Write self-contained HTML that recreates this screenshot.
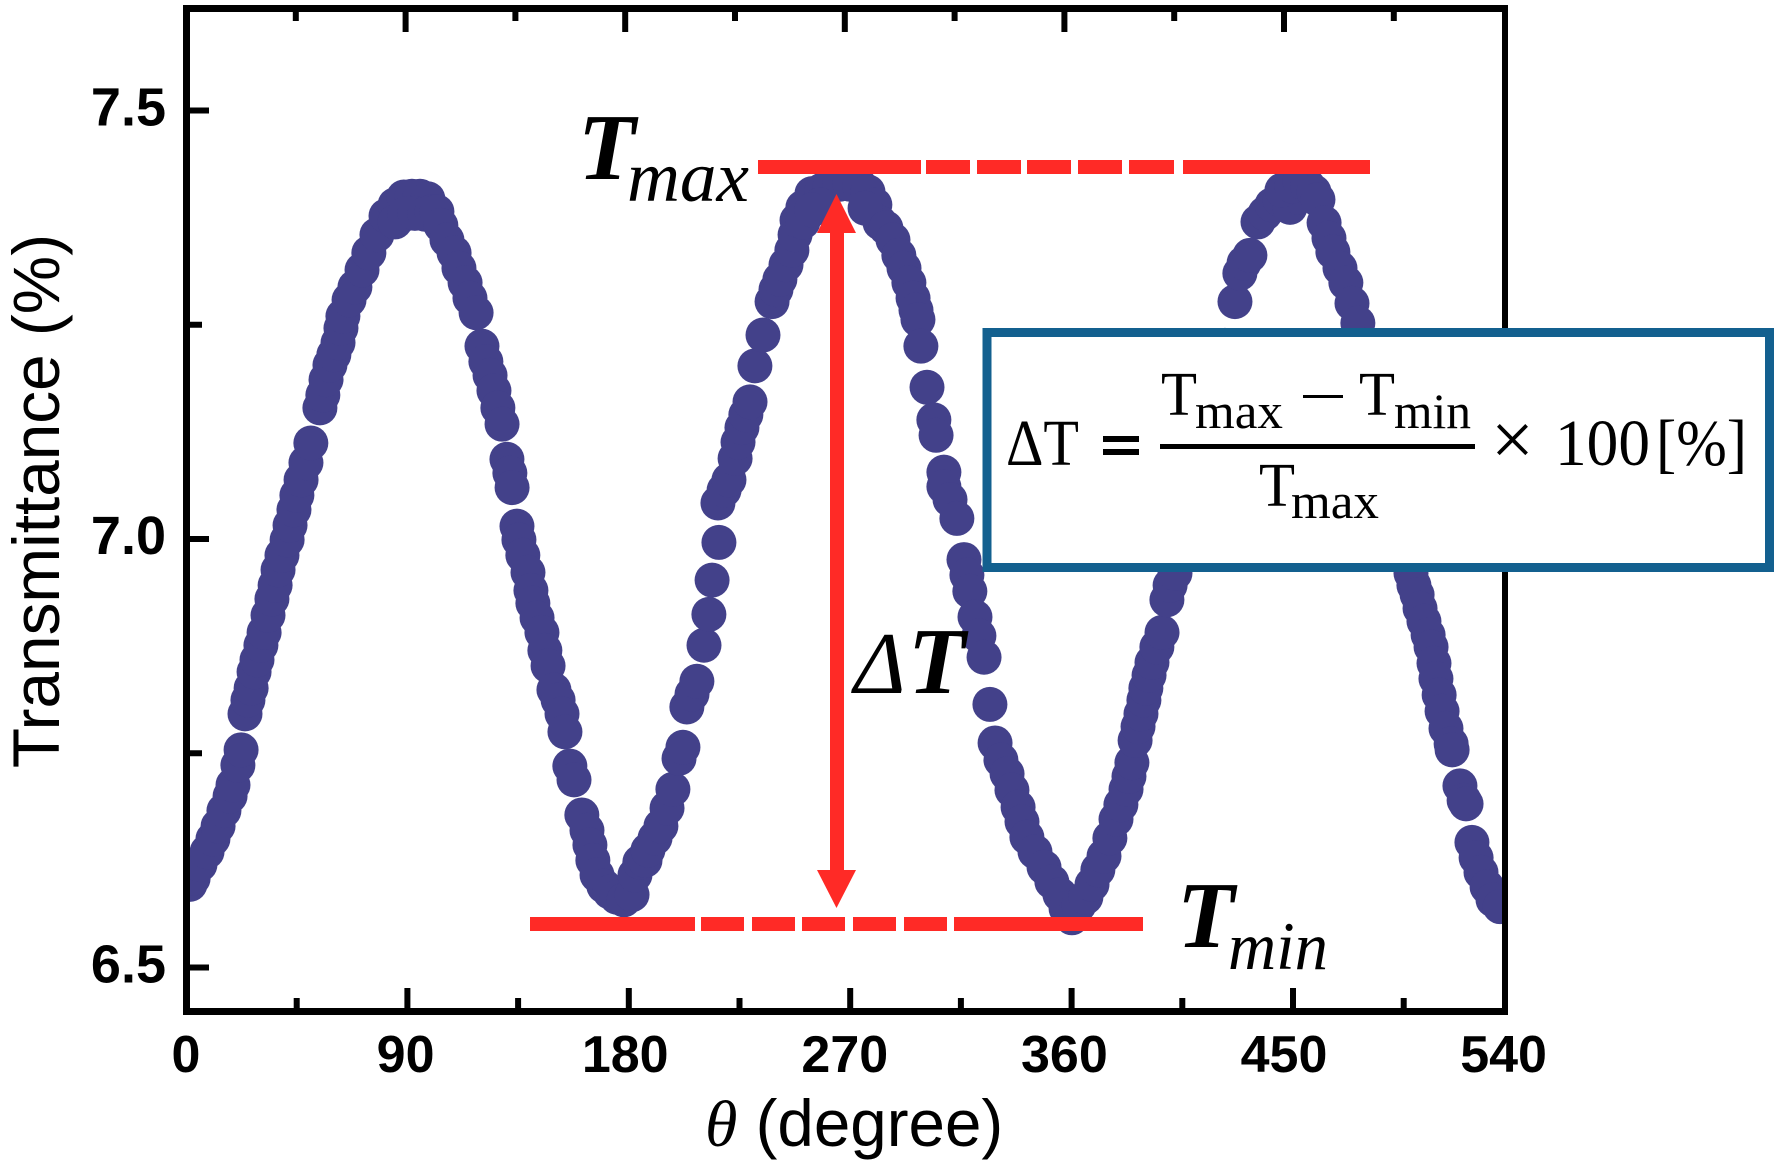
<!DOCTYPE html>
<html lang="en">
<head>
<meta charset="utf-8">
<title>Transmittance vs angle</title>
<style>
html,body{margin:0;padding:0;background:#fff;width:1779px;height:1168px;overflow:hidden}
svg{display:block;position:absolute;left:0;top:0}
.sans{font-family:"Liberation Sans",Arial,sans-serif}
.serif{font-family:"Liberation Serif","Times New Roman",serif}
</style>
</head>
<body>
<svg id="chart" xmlns="http://www.w3.org/2000/svg" width="1779" height="1168" viewBox="0 0 1779 1168">
  <defs>
    <clipPath id="plot-clip"><rect x="189" y="11" width="1314" height="998"/></clipPath>
  </defs>
  <rect x="0" y="0" width="1779" height="1168" fill="#fff"/>
  <g id="dots" clip-path="url(#plot-clip)" fill="#43418a"></g>
  <g id="axes"></g>

  <g fill="#ff2a26">
    <rect x="758" y="160" width="163" height="14"/><rect x="926" y="160" width="44" height="14"/><rect x="977" y="160" width="44" height="14"/><rect x="1027" y="160" width="44" height="14"/><rect x="1078" y="160" width="44" height="14"/><rect x="1129" y="160" width="45" height="14"/><rect x="1183" y="160" width="187" height="14"/>
  </g>
  <g fill="#ff2a26">
    <rect x="530" y="917" width="165" height="14"/><rect x="701" y="917" width="43" height="14"/><rect x="752" y="917" width="43" height="14"/><rect x="802" y="917" width="43" height="14"/><rect x="853" y="917" width="43" height="14"/><rect x="904" y="917" width="43" height="14"/><rect x="954" y="917" width="189" height="14"/>
  </g>
  <g fill="#ff2a26">
    <rect x="830" y="230" width="14" height="643"/>
    <polygon points="836.5,194 856,233 817,233"/>
    <polygon points="836.5,908 856,870 817,870"/>
  </g>

  <g class="serif" fill="#000">
    <text x="578" y="179" font-size="94" font-weight="bold" font-style="italic">T</text>
    <text x="627" y="201" font-size="72" font-style="italic" textLength="122" lengthAdjust="spacingAndGlyphs">max</text>
    <text x="1177" y="947" font-size="94" font-weight="bold" font-style="italic">T</text>
    <text x="1228" y="969" font-size="68" font-style="italic" textLength="100" lengthAdjust="spacingAndGlyphs">min</text>
    <text x="854" y="693" font-size="88" font-style="italic">Δ</text>
    <text x="908" y="693" font-size="94" font-weight="bold" font-style="italic">T</text>
  </g>

  <g>
    <rect x="987" y="332.5" width="782.5" height="235" fill="#fff" stroke="#13608f" stroke-width="9"/>
    <g class="serif" fill="#000">
      <text x="1006" y="465" font-size="66" textLength="73" lengthAdjust="spacingAndGlyphs">ΔT</text>
      <rect x="1103" y="436" width="36" height="6"/>
      <rect x="1103" y="449" width="36" height="6"/>
      <text x="1161" y="415" font-size="62" textLength="36" lengthAdjust="spacingAndGlyphs">T</text>
      <text x="1195" y="428" font-size="50" textLength="88" lengthAdjust="spacingAndGlyphs">max</text>
      <rect x="1303" y="395" width="40" height="3"/>
      <text x="1359" y="415" font-size="62" textLength="36" lengthAdjust="spacingAndGlyphs">T</text>
      <text x="1394" y="428" font-size="50" textLength="77" lengthAdjust="spacingAndGlyphs">min</text>
      <rect x="1160" y="444" width="315" height="5"/>
      <text x="1259" y="506" font-size="62" textLength="36" lengthAdjust="spacingAndGlyphs">T</text>
      <text x="1291" y="518" font-size="50" textLength="88" lengthAdjust="spacingAndGlyphs">max</text>
      <text x="1491" y="465" font-size="76">×</text>
      <text x="1555" y="465" font-size="66" textLength="95" lengthAdjust="spacingAndGlyphs">100</text>
      <text x="1656" y="465" font-size="66" textLength="91" lengthAdjust="spacingAndGlyphs">[%]</text>
    </g>
  </g>

  <text class="sans" transform="translate(59 501) rotate(-90)" text-anchor="middle" font-size="65.7" fill="#000">Transmittance (%)</text>
  <text class="sans" x="705" y="1146" font-size="65.5" fill="#000"><tspan class="serif" font-style="italic" font-size="66">θ</tspan> (degree)</text>
</svg>

<script>
// ---- chart data ----
var thetaValues = [
1.6,2.9,5.7,8.6,11.0,13.1,15.5,18.0,19.2,21.2,22.5,24.1,25.3,26.6,27.8,29.0,30.6,31.9,33.5,35.1,
36.4,37.6,39.2,41.3,42.5,44.1,45.3,47.0,49.0,51.0,54.7,55.9,57.2,58.8,60.4,62.1,63.3,64.1,66.6,69.0,
71.9,74.7,78.0,81.7,85.4,89.0,92.3,95.6,98.8,85.4,89.4,93.5,97.6,100.5,102.5,104.1,106.6,109.5,111.5,114.0,
116.0,118.5,120.9,122.5,124.2,125.8,127.4,129.1,131.1,132.3,133.2,135.2,136.0,137.6,139.7,140.9,141.7,143.4,145.4,146.6,
147.9,150.3,152.0,153.6,154.8,156.8,158.5,161.7,163.8,165.0,166.2,167.9,170.7,173.2,176.0,178.9,182.2,183.4,185.4,187.5,
188.7,191.6,194.0,196.5,198.9,201.4,203.0,204.6,206.7,208.7,211.6,213.6,214.9,217.7,217.3,219.8,221.8,224.3,225.5,227.1,
228.7,230.4,232.4,235.7,239.4,241.0,242.6,245.1,247.5,248.8,249.6,252.0,255.7,259.8,263.1,267.1,271.2,275.3,278.6,281.4,
283.5,259.0,277.4,252.0,255.7,285.9,288.8,291.2,293.3,295.3,297.0,298.2,299.0,300.2,302.7,305.5,306.4,309.6,309.6,312.1,314.9,317.8,
319.0,320.2,322.3,323.9,326.0,328.4,330.5,332.9,335.4,337.4,339.9,341.5,343.5,346.8,350.5,353.7,357.0,359.5,361.9,364.8,
367.6,370.1,372.5,375.0,377.4,379.9,381.9,384.0,385.2,386.4,387.7,388.9,390.1,391.3,392.1,393.4,394.6,396.6,398.7,400.7,
402.0,404.0,406.4,408.9,412.2,416.3,420.3,424.4,
428.5,430.5,432.2,434.6,437.9,440.8,443.6,446.9,451.0,454.2,447.7,451.8,455.1,458.3,460.8,462.4,464.9,466.9,468.5,471.4,473.8,476.3,478.7,481.6,
483.6,487.7,493.9,497.9,500.4,501.6,502.9,504.1,505.7,507.4,
508.6,509.8,510.6,511.9,513.1,514.7,516.8,517.2,520.4,522.1,522.9,525.3,527.0,529.0,531.5,533.9,536.8
];
var transmittanceValues = [
6.597,6.604,6.620,6.635,6.650,6.665,6.683,6.700,6.713,6.736,6.754,6.796,6.812,6.826,6.845,6.859,6.876,6.891,6.911,6.930,
6.946,6.964,6.981,6.999,7.016,7.034,7.051,7.069,7.089,7.112,7.153,7.168,7.186,7.203,7.215,7.229,7.246,7.260,7.279,7.294,
7.314,7.334,7.355,7.377,7.390,7.399,7.400,7.400,7.397,7.370,7.379,7.380,7.379,7.382,7.382,7.366,7.349,7.334,7.316,7.299,
7.281,7.264,7.225,7.207,7.191,7.173,7.153,7.134,7.093,7.077,7.060,7.015,6.999,6.981,6.961,6.940,6.925,6.908,6.891,6.870,
6.852,6.824,6.812,6.796,6.775,6.735,6.719,6.678,6.660,6.643,6.625,6.608,6.595,6.588,6.582,6.579,6.585,6.608,6.623,6.625,
6.637,6.651,6.665,6.686,6.708,6.744,6.757,6.804,6.819,6.834,6.876,6.912,6.952,6.996,7.042,7.057,7.069,7.094,7.113,7.130,
7.145,7.160,7.202,7.238,7.277,7.291,7.303,7.320,7.337,7.355,7.372,7.387,7.403,7.407,7.412,7.414,7.414,7.412,7.405,7.390,
7.369,7.390,7.386,7.370,7.384,7.363,7.349,7.331,7.316,7.299,7.281,7.267,7.256,7.225,7.177,7.139,7.121,7.078,7.061,7.046,7.024,6.976,
6.958,6.939,6.909,6.887,6.862,6.807,6.762,6.742,6.726,6.707,6.687,6.670,6.652,6.635,6.617,6.600,6.585,6.569,6.558,6.573,
6.582,6.597,6.614,6.630,6.651,6.673,6.690,6.708,6.723,6.739,6.765,6.781,6.796,6.812,6.826,6.841,6.856,6.874,6.891,6.929,
6.946,6.960,6.981,7.005,7.057,7.116,7.174,7.226,
7.277,7.310,7.322,7.331,7.370,7.380,7.390,7.396,7.387,7.399,7.407,7.412,7.417,7.412,7.405,7.396,7.369,7.351,7.335,7.316,7.299,7.275,7.252,7.226,
7.209,7.139,7.057,6.999,6.960,6.946,6.935,6.919,6.904,6.888,
6.874,6.855,6.837,6.818,6.799,6.779,6.761,6.754,6.712,6.695,6.691,6.646,6.628,6.611,6.594,6.579,6.571
];
var xMajorTicks = [0,90,180,270,360,450,540];
var xMinorTicks = [45,135,225,315,405,495];
var xTickLabels = ["0","90","180","270","360","450","540"];
var yMajorTicks = [7.5,7.0,6.5];
var yMinorTicks = [7.25,6.75];
var yTickLabels = ["7.5","7.0","6.5"];

// ---- axis functions ----
function xScale(v){ return 186 + v * 2.448; }
function xTopTickScale(v){ return 186 + v * 2.44; }
function xBottomTickScale(v){ return 186 + v * 2.46; }
function yScale(v){ return 539 - (v - 7) * 857; }

var NS = "http://www.w3.org/2000/svg";
var dotsGroup = document.getElementById("dots");
var axesGroup = document.getElementById("axes");

thetaValues.forEach(function(t, i){
  var c = document.createElementNS(NS, "circle");
  c.setAttribute("cx", xScale(t));
  c.setAttribute("cy", yScale(transmittanceValues[i]));
  c.setAttribute("r", 17.5);
  
  
  dotsGroup.appendChild(c);
});

function addRect(x, y, w, h){
  var r = document.createElementNS(NS, "rect");
  r.setAttribute("x", x);
  r.setAttribute("y", y);
  r.setAttribute("width", w);
  r.setAttribute("height", h);
  r.setAttribute("fill", "#000");
  axesGroup.appendChild(r);
  return r;
}

var frameLeft = addRect(183, 5, 7, 1010);


var frameRight = addRect(1502, 5, 6, 1010);


var frameTop = addRect(183, 5, 1325, 7);


var frameBottom = addRect(183, 1008, 1325, 7);



xMajorTicks.forEach(function(v, i){
  if (v > 0 && v < 540) {
    var top = addRect(xTopTickScale(v) - 3, 11, 6, 21);
    
    
    var bottom = addRect(xBottomTickScale(v) - 3, 988, 6, 21);
    
    
  }
  var label = document.createElementNS(NS, "text");
  label.setAttribute("x", xTopTickScale(v));
  label.setAttribute("y", 1072);
  label.setAttribute("text-anchor", "middle");
  label.setAttribute("font-size", "52");
  label.setAttribute("font-weight", "bold");
  label.setAttribute("class", "sans");
  label.textContent = xTickLabels[i];
  
  
  axesGroup.appendChild(label);
});

xMinorTicks.forEach(function(v){
  var top = addRect(xTopTickScale(v) - 3, 11, 6, 10);
  
  
  var bottom = addRect(xBottomTickScale(v) - 3, 998, 6, 11);
  
  
});

yMajorTicks.forEach(function(v, i){
  var tick = addRect(188, yScale(v) - 3, 21, 6);
  
  
  var label = document.createElementNS(NS, "text");
  label.setAttribute("x", 166);
  label.setAttribute("y", yScale(v) + 15);
  label.setAttribute("text-anchor", "end");
  label.setAttribute("font-size", "54");
  label.setAttribute("font-weight", "bold");
  label.setAttribute("class", "sans");
  label.textContent = yTickLabels[i];
  
  
  axesGroup.appendChild(label);
});

yMinorTicks.forEach(function(v){
  var tick = addRect(188, yScale(v) - 3, 14, 6);
  
  
});
</script>
</body>
</html>
